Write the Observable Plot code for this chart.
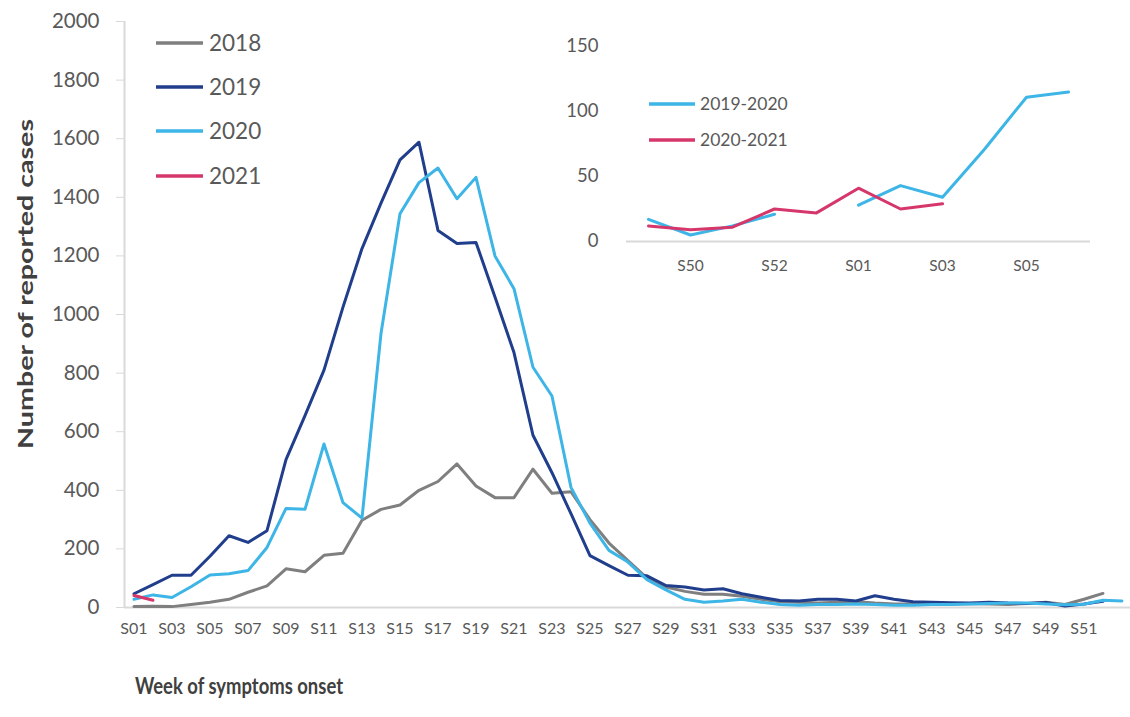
<!DOCTYPE html>
<html>
<head>
<meta charset="utf-8">
<script src="https://cdn.jsdelivr.net/npm/d3@7"></script>
<script src="https://cdn.jsdelivr.net/npm/@observablehq/plot@0.6"></script>
<style>
html, body { margin: 0; padding: 0; background: #fff; }
#wrap { position: relative; width: 1130px; height: 717px; font-family: Lato, "Open Sans", sans-serif; }
#wrap svg { position: absolute; background: transparent !important; }
</style>
</head>
<body>
<div id="wrap"></div>
<script>
// ---------- main chart data ----------
const seriesNames = ["2018", "2019", "2020", "2021"];
const seriesColors = ["#7f7f7f", "#203e8c", "#3db5e6", "#d6376b"];
const cases2018 = [3,4,3,10,18,28,52,74,132,122,178,185,298,335,350,400,430,490,415,375,375,472,390,395,300,220,160,100,70,55,45,45,38,28,20,18,15,18,20,15,12,12,12,12,14,12,10,14,18,10,28,48];
const cases2019 = [47,78,110,110,175,245,222,262,505,655,810,1025,1225,1380,1528,1588,1287,1242,1246,1060,870,588,460,320,177,143,110,108,75,70,60,64,47,35,24,22,28,28,22,40,28,20,18,16,15,18,15,14,17,5,12,21];
const cases2020 = [28,43,34,71,111,115,126,205,338,335,558,358,305,935,1344,1450,1500,1395,1468,1200,1088,820,722,410,288,195,155,95,60,28,18,22,28,18,10,8,10,10,12,10,8,8,10,10,12,14,15,15,12,9,11,25,22];
const cases2021 = [41,25];
const yTicks = [0,200,400,600,800,1000,1200,1400,1600,1800,2000];
const xTickWeeks = [1,3,5,7,9,11,13,15,17,19,21,23,25,27,29,31,33,35,37,39,41,43,45,47,49,51];
const yTitle = "Number of reported cases";
const xTitle = "Week of symptoms onset";

// ---------- inset data ----------
const insetWeeks = ["S49","S50","S51","S52","S53","S01","S02","S03","S04","S05","S06"];
const insetNames = ["2019-2020", "2020-2021"];
const insetColors = ["#3db5e6", "#d6376b"];
const inset1920 = [17,5,12,21,null,28,43,34,71,111,115];
const inset2021 = [12,9,11,25,22,41,25,29];
const insetYTicks = [0,50,100,150];
const insetXTicks = ["S50","S52","S01","S03","S05"];

const fmtWeek = d => "S" + String(d).padStart(2, "0");
const fmtNum = d => String(d);
const TXT = "#595959";
const AX = "#d9d9d9";

const rows = [];
[cases2018, cases2019, cases2020, cases2021].forEach((arr, k) => {
  arr.forEach((v, i) => rows.push({series: seriesNames[k], week: i + 1, value: v}));
});

const main = Plot.plot({
  width: 1130, height: 717,
  marginTop: 21, marginBottom: 110, marginLeft: 124, marginRight: 0,
  style: {fontFamily: "Lato, 'Open Sans', sans-serif", background: "transparent", overflow: "visible"},
  x: {domain: [0.5, 53.45]},
  y: {domain: [0, 2000]},
  color: {domain: seriesNames, range: seriesColors},
  marks: [
    Plot.ruleX([0.5], {stroke: AX, strokeWidth: 2}),
    Plot.ruleY([0], {stroke: AX, strokeWidth: 2}),
    Plot.axisY({ticks: yTicks, tickSize: 8, tickPadding: 17, tickFormat: fmtNum, stroke: AX, fill: TXT, fontSize: 20.5, label: null}),
    Plot.axisX({ticks: xTickWeeks, tickSize: 0, tickPadding: 15, tickFormat: fmtWeek, fill: TXT, fontSize: 16, label: null}),
    Plot.lineY(rows, {x: "week", y: "value", z: "series", stroke: "series", strokeWidth: 3, strokeLinejoin: "round"})
  ]
});
main.style.left = "0px";
main.style.top = "0px";
document.getElementById("wrap").appendChild(main);

const ms = d3.select(main);
// main legend
const legY = [43, 87, 131, 176];
seriesNames.forEach((name, i) => {
  ms.append("line").attr("x1", 156).attr("x2", 203).attr("y1", legY[i]).attr("y2", legY[i])
    .attr("stroke", seriesColors[i]).attr("stroke-width", 3.5);
  ms.append("text").attr("x", 209).attr("y", legY[i]).attr("dy", "0.36em")
    .attr("text-anchor", "start").attr("fill", TXT).attr("font-size", 22.5).text(name);
});
// axis titles
ms.append("text").attr("transform", "translate(25,284) rotate(-90)")
  .attr("text-anchor", "middle").attr("dy", "0.36em")
  .attr("font-size", 21.5).attr("font-weight", "bold").attr("fill", "#404040")
  .attr("textLength", 330).attr("lengthAdjust", "spacingAndGlyphs").text(yTitle);
ms.append("text").attr("x", 135).attr("y", 686).attr("dy", "0.36em").attr("text-anchor", "start")
  .attr("font-size", 22).attr("font-weight", "bold").attr("fill", "#404040")
  .attr("textLength", 208).attr("lengthAdjust", "spacingAndGlyphs").text(xTitle);

// ---------- inset ----------
const insetRows = [];
[inset1920, inset2021].forEach((arr, k) => {
  arr.forEach((v, i) => insetRows.push({series: insetNames[k], week: insetWeeks[i], value: v}));
});
const inset = Plot.plot({
  width: 590, height: 280,
  marginLeft: 86, marginRight: 40, marginTop: 26, marginBottom: 59,
  style: {fontFamily: "Lato, 'Open Sans', sans-serif", background: "transparent", overflow: "visible"},
  x: {type: "point", domain: insetWeeks, padding: 0.5},
  y: {domain: [0, 150]},
  color: {domain: insetNames, range: insetColors},
  marks: [
    Plot.ruleY([0], {stroke: AX, strokeWidth: 2}),
    Plot.axisY({ticks: insetYTicks, tickSize: 0, tickPadding: 28, tickFormat: fmtNum, fill: TXT, fontSize: 18.5, label: null}),
    Plot.axisX({ticks: insetXTicks, tickSize: 0, tickPadding: 18, fill: TXT, fontSize: 15.5, label: null}),
    Plot.lineY(insetRows, {x: "week", y: "value", z: "series", stroke: "series", strokeWidth: 3, strokeLinejoin: "round"})
  ]
});
inset.style.left = "540px";
inset.style.top = "20px";
document.getElementById("wrap").appendChild(inset);
const is = d3.select(inset);
const insetLegY = [84, 120];
insetNames.forEach((name, i) => {
  is.append("line").attr("x1", 109).attr("x2", 155).attr("y1", insetLegY[i]).attr("y2", insetLegY[i])
    .attr("stroke", insetColors[i]).attr("stroke-width", 3.5);
  is.append("text").attr("x", 160).attr("y", insetLegY[i]).attr("dy", "0.36em")
    .attr("text-anchor", "start").attr("fill", TXT).attr("font-size", 17.5).text(name);
});
</script>
</body>
</html>
